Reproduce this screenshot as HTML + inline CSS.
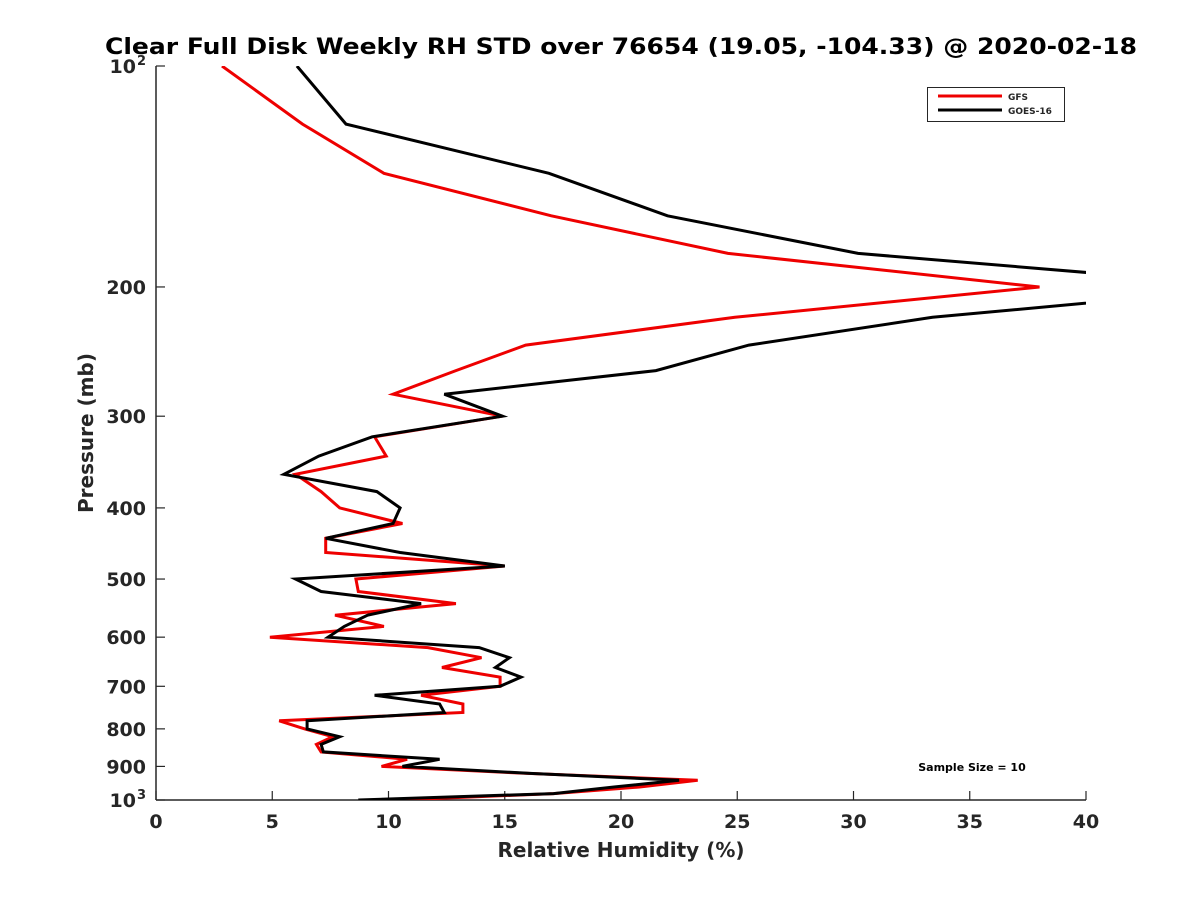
<!DOCTYPE html>
<html><head><meta charset="utf-8"><style>body{margin:0;background:#fff}svg{display:block}text{font-family:"DejaVu Sans","Liberation Sans",sans-serif;font-weight:bold;fill:#262626}</style></head>
<body>
<svg id="c" width="1200" height="900">
<defs><clipPath id="clip"><rect x="156" y="66" width="930" height="734"/></clipPath></defs>
<rect x="0" y="0" width="1200" height="900" fill="#fff"/>
<text x="621" y="54" font-size="22" text-anchor="middle" style="fill:#000" textLength="1032" lengthAdjust="spacingAndGlyphs">Clear Full Disk Weekly RH STD over 76654 (19.05, -104.33) @ 2020-02-18</text>
<g id="axes"></g>
<g id="series" clip-path="url(#clip)"></g>
<text x="621" y="857" font-size="20" text-anchor="middle">Relative Humidity (%)</text>
<text transform="translate(93,433) rotate(-90)" font-size="20" text-anchor="middle">Pressure (mb)</text>
<g>
<rect x="927.5" y="87.5" width="137" height="34" fill="#fff" stroke="#262626" stroke-width="1"/>
<line x1="938" y1="96" x2="1002" y2="96" stroke="#e00" stroke-width="3"/>
<text x="1008" y="100" font-size="9">GFS</text>
<line x1="938" y1="110" x2="1002" y2="110" stroke="#000" stroke-width="3"/>
<text x="1008" y="114" font-size="9">GOES-16</text>
</g>
<text x="972" y="771" font-size="11" text-anchor="middle" style="fill:#000">Sample Size = 10</text>
</svg>
<script>
const pressures=[100,120,140,160,180,200,220,240,260,280,300,320,340,360,380,400,420,440,460,480,500,520,540,560,580,600,620,640,660,680,700,720,740,760,780,800,820,840,860,880,900,920,940,960,980,1000];
const gfs=[2.84,6.3,9.8,17.0,24.6,38.0,24.9,15.9,12.9,10.2,14.9,9.4,9.9,6.0,7.1,7.9,10.6,7.3,7.3,15.0,8.6,8.7,12.9,7.7,9.8,4.9,11.7,14.0,12.3,14.8,14.8,11.4,13.2,13.2,5.3,6.4,7.6,6.9,7.1,10.8,9.7,16.0,23.3,20.8,17.1,10.4];
const goes=[6.06,8.17,16.9,22.0,30.2,47.5,33.4,25.5,21.5,12.4,14.9,9.3,7.0,5.5,9.5,10.5,10.2,7.3,10.5,15.0,6.0,7.1,11.4,9.1,8.1,7.4,13.9,15.2,14.6,15.7,14.8,9.4,12.2,12.4,6.5,6.5,7.9,7.1,7.2,12.2,10.6,16.1,22.5,19.7,17.1,8.7];
const xTicks=[0,5,10,15,20,25,30,35,40];
const yTicks=[100,200,300,400,500,600,700,800,900,1000];
const yLabels=["10","200","300","400","500","600","700","800","900","10"];
const ySup=["2","","","","","","","","","3"];
const X=v=>156+v*930/40;
const Y=p=>66+(Math.log10(p)-2)*734;
const NS="http://www.w3.org/2000/svg";
const ax=document.getElementById('axes'), sr=document.getElementById('series');
function mk(t,a,par){const e=document.createElementNS(NS,t);for(const k in a)e.setAttribute(k,a[k]);par.appendChild(e);return e;}
let l=mk('line',{x1:156,y1:66,x2:156,y2:800,stroke:'#262626','stroke-width':1.5},ax);


l=mk('line',{x1:156,y1:800,x2:1086,y2:800,stroke:'#262626','stroke-width':1.5},ax);


xTicks.forEach(v=>{
  mk('line',{x1:X(v),y1:800,x2:X(v),y2:791,stroke:'#262626','stroke-width':1.2},ax);
  const t=mk('text',{x:X(v),y:828,'font-size':19,'text-anchor':'middle'},ax);t.textContent=v;
  
  
});
yTicks.forEach((p,i)=>{
  mk('line',{x1:156,y1:Y(p),x2:165,y2:Y(p),stroke:'#262626','stroke-width':1.2},ax);
  const t=mk('text',{x:ySup[i]?136:146,y:Y(p)+7,'font-size':19,'text-anchor':'end'},ax);t.textContent=yLabels[i];
  
  
  if(ySup[i]){
    const s=mk('text',{x:137,y:Y(p)-1,'font-size':13,'text-anchor':'start'},ax);s.textContent=ySup[i];
    
    
  }
});
function line(vals,col,name){
  const pts=vals.map((v,i)=>X(v).toFixed(1)+','+Y(pressures[i]).toFixed(1)).join(' ');
  const e=mk('polyline',{points:pts,fill:'none',stroke:col,'stroke-width':3,'stroke-linejoin':'miter'},sr);
  
  
}
line(gfs,'#e00','gfs-line');
line(goes,'#000','goes16-line');
</script>
</body></html>
